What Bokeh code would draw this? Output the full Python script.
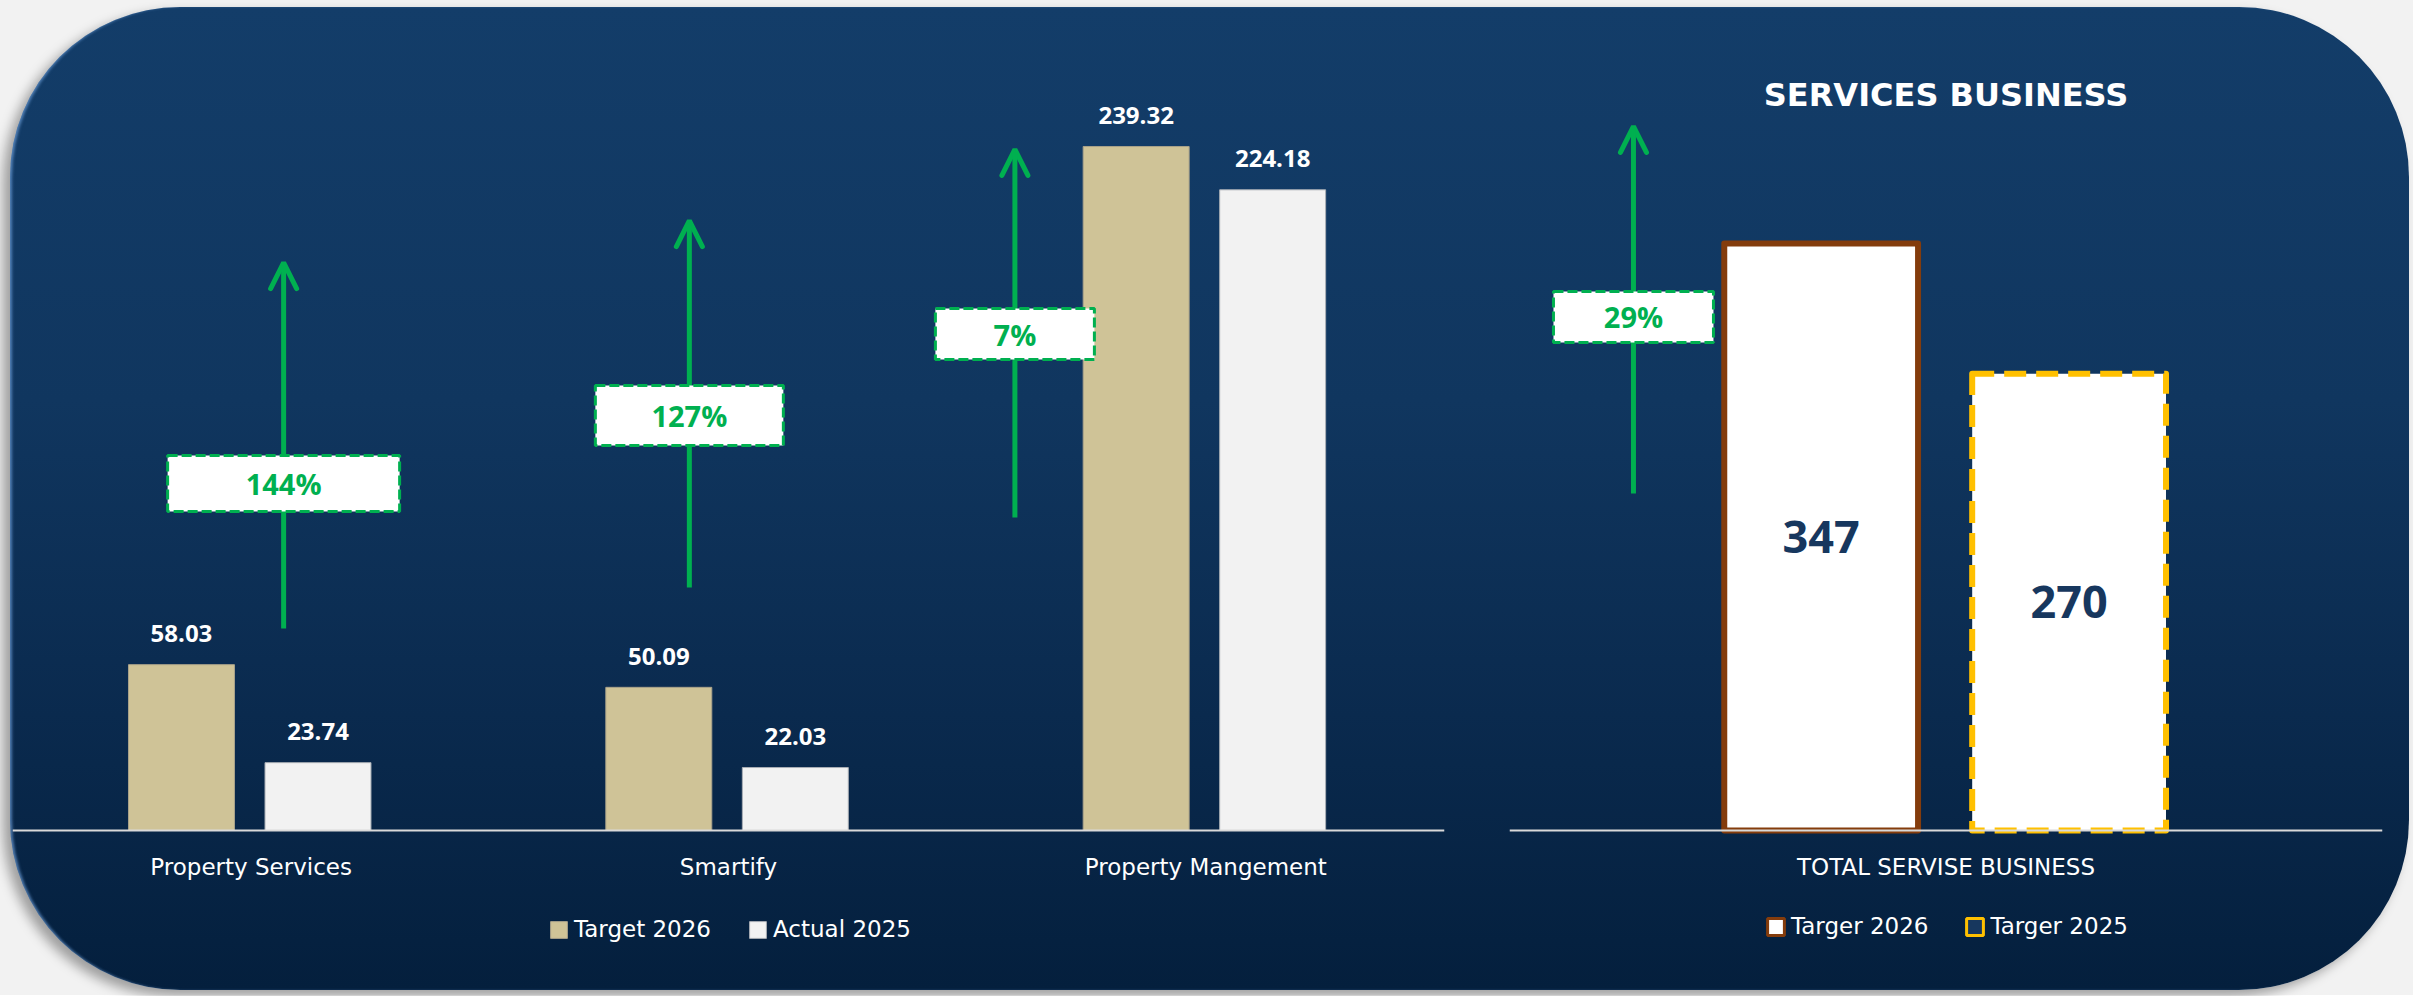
from bokeh.plotting import figure
from bokeh.models import (ColumnDataSource, FactorRange, Range1d, Arrow, OpenHead,
                          Legend, LegendItem, Label)
from bokeh.transform import dodge
from bokeh.layouts import row, column
from bokeh.core.properties import value
from bokeh.embed import file_html
from bokeh.resources import INLINE

# ---------------- data ----------------
categories = ["Property Services", "Smartify", "Property Mangement"]
target_2026 = [58.03, 50.09, 239.32]
actual_2025 = [23.74, 22.03, 224.18]
series_left = ["Target 2026", "Actual 2025"]

total_category = ["TOTAL SERVISE BUSINESS"]
total_target_2026 = [347]
total_target_2025 = [270]
series_right = ["Targer 2026", "Targer 2025"]

title_text = "SERVICES BUSINESS"

# ---------------- annotation layout (arrow / growth box placement) ----------------
arrow_dx_left = [0.068, -0.082, -0.400]      # offset from category centre (category units)
arrow_y0_left = [70.7, 85.0, 109.5]
arrow_y1_left = [198.7, 213.4, 238.3]
box_y_left = [121.4, 145.2, 173.7]
box_w_left = [232, 188, 159]
box_h_left = [56, 60, 51]

arrow_dx_right = [-0.358]
arrow_y0_right = [199.2]
arrow_y1_right = [416.1]
box_y_right = [303.5]
box_w_right = [160]
box_h_right = [51]

# ---------------- styles ----------------
TAN = "#CFC397"
LIGHT = "#F2F2F2"
GREEN = "#00B050"
BROWN = "#843C0C"
GOLD = "#FFC000"
NAVY = "#17375E"
LBL_FONT = "DejaVu Sans"
NUM_FONT = "Open Sans"

W_L, W_R, H = 1468, 931, 983
PX_L = 2.858   # pixels per unit, left chart
PX_R = 1.692   # pixels per unit, right chart
ABOVE, BELOW = 790, 160   # frame pixels above / below the baseline


def growth(t, a):
    return f"{round((t / a - 1) * 100):.0f}%"


def style_fig(p):
    p.background_fill_alpha = 0
    p.border_fill_alpha = 0
    p.outline_line_alpha = 0
    p.xgrid.visible = False
    p.ygrid.visible = False
    ax = p.xaxis[0]
    ax.fixed_location = 0
    ax.axis_line_color = "#D9D9D9"
    ax.axis_line_width = 2
    ax.major_tick_line_alpha = 0
    ax.minor_tick_line_alpha = 0
    ax.major_tick_out = 0
    ax.major_tick_in = 0
    ax.major_label_standoff = 23
    ax.major_label_text_color = "white"
    ax.major_label_text_font = LBL_FONT
    ax.major_label_text_font_size = "23px"


def style_legend(leg, loc):
    leg.orientation = "horizontal"
    leg.location = loc
    leg.background_fill_alpha = 0
    leg.border_line_alpha = 0
    leg.label_text_color = "white"
    leg.label_text_font = LBL_FONT
    leg.label_text_font_size = "23px"
    leg.glyph_width = 21
    leg.glyph_height = 21
    leg.label_height = 21
    leg.label_standoff = 5
    leg.spacing = 36
    leg.padding = 4
    leg.margin = 0


def percent_box(p, src):
    p.add_layout(Arrow(end=OpenHead(size=26, line_color=GREEN, line_width=5, line_cap="round"),
                       x_start="x", y_start="y0", x_end="x", y_end="y1", source=src,
                       line_color=GREEN, line_width=5, level="underlay"))
    p.rect(x="x", y="by", width="bw", height="bh", width_units="screen", height_units="screen",
           source=src, fill_color="white", line_color=GREEN, line_width=3, line_dash="10 4")
    p.text(x="x", y="by", text="lbl", source=src, text_align="center",
           text_baseline="middle", text_font=value(NUM_FONT), text_font_style="bold",
           text_font_size="29px", text_color=GREEN)


# ================= left chart =================
pL = figure(x_range=FactorRange(*categories),
            y_range=Range1d(-BELOW / PX_L, ABOVE / PX_L),
            width=W_L, height=H, output_backend="svg", toolbar_location=None,
            y_axis_location=None, min_border_left=2, min_border_right=34,
            min_border_top=33, min_border_bottom=0)
style_fig(pL)

src = ColumnDataSource(dict(
    cat=categories, target=target_2026, actual=actual_2025,
    t_lbl=[f"{v:.2f}" for v in target_2026],
    a_lbl=[f"{v:.2f}" for v in actual_2025],
))

x_t = dodge("cat", -0.146, range=pL.x_range)
x_a = dodge("cat", 0.140, range=pL.x_range)
r_t = pL.vbar(x=x_t, top="target", bottom=0, width=0.222, source=src,
              fill_color=TAN, line_color="#A9A28A", line_width=1)
r_a = pL.vbar(x=x_a, top="actual", bottom=0, width=0.222, source=src,
              fill_color=LIGHT, line_color="#A9AEB5", line_width=1)
pL.text(x=x_t, y="target", text="t_lbl", source=src, text_align="center",
        text_baseline="middle", y_offset=-31, text_font=value(NUM_FONT),
        text_font_style="bold", text_font_size="24px", text_color="white")
pL.text(x=x_a, y="actual", text="a_lbl", source=src, text_align="center",
        text_baseline="middle", y_offset=-31, text_font=value(NUM_FONT),
        text_font_style="bold", text_font_size="24px", text_color="white")

asrc_L = ColumnDataSource(dict(
    x=[i + 0.5 + d for i, d in enumerate(arrow_dx_left)],
    y0=arrow_y0_left, y1=arrow_y1_left, by=box_y_left,
    bw=box_w_left, bh=box_h_left,
    lbl=[growth(t, a) for t, a in zip(target_2026, actual_2025)],
))
percent_box(pL, asrc_L)

legL = Legend(items=[LegendItem(label=series_left[0], renderers=[r_t]),
                     LegendItem(label=series_left[1], renderers=[r_a])])
style_legend(legL, (532, 44))
pL.add_layout(legL)

# ================= right chart =================
pR = figure(x_range=FactorRange(*total_category),
            y_range=Range1d(-BELOW / PX_R, ABOVE / PX_R),
            width=W_R, height=H, output_backend="svg", toolbar_location=None,
            y_axis_location=None, min_border_left=31, min_border_right=27,
            min_border_top=33, min_border_bottom=0)
style_fig(pR)

rsrc = ColumnDataSource(dict(
    cat=total_category, t26=total_target_2026, t25=total_target_2025,
    m26=[v / 2 for v in total_target_2026], m25=[v / 2 for v in total_target_2025],
    l26=[str(v) for v in total_target_2026], l25=[str(v) for v in total_target_2025],
))
xr1 = dodge("cat", -0.143, range=pR.x_range)
xr2 = dodge("cat", 0.141, range=pR.x_range)
pR.vbar(x=xr1, top="t26", bottom=0, width=0.222, source=rsrc, fill_color="white",
        line_color=BROWN, line_width=6, line_join="round")
pR.vbar(x=xr2, top="t25", bottom=0, width=0.222, source=rsrc, fill_color="white",
        line_color=GOLD, line_width=6, line_dash="22 10", line_join="round")
pR.text(x=xr1, y="m26", text="l26", source=rsrc, text_align="center",
        text_baseline="middle", text_font=value(NUM_FONT), text_font_style="bold",
        text_font_size="45px", text_color=NAVY)
pR.text(x=xr2, y="m25", text="l25", source=rsrc, text_align="center",
        text_baseline="middle", text_font=value(NUM_FONT), text_font_style="bold",
        text_font_size="45px", text_color=NAVY)

asrc_R = ColumnDataSource(dict(
    x=[i + 0.5 + d for i, d in enumerate(arrow_dx_right)],
    y0=arrow_y0_right, y1=arrow_y1_right, by=box_y_right,
    bw=box_w_right, bh=box_h_right,
    lbl=[growth(t, a) for t, a in zip(total_target_2026, total_target_2025)],
))
percent_box(pR, asrc_R)

pR.add_layout(Label(x=0.5, y=434.4, text=title_text, text_align="center",
                    text_baseline="middle", text_font=LBL_FONT, text_font_style="bold",
                    text_font_size="32px", text_color="white"))

# legend proxies (not drawn in plot: NaN tops)
proxy = ColumnDataSource(dict(cat=total_category, top=[float("nan")]))
lp1 = pR.vbar(x="cat", top="top", width=0.1, source=proxy, fill_color="white",
              line_color=BROWN, line_width=3)
lp2 = pR.vbar(x="cat", top="top", width=0.1, source=proxy, fill_color=NAVY,
              line_color=GOLD, line_width=3)
legR = Legend(items=[LegendItem(label=series_right[0], renderers=[lp1]),
                     LegendItem(label=series_right[1], renderers=[lp2])])
style_legend(legR, (252, 47))
pR.add_layout(legR)

panel = row(pL, pR, margin=(7, 4, 5, 10), styles={
    "background": "linear-gradient(180deg, #133d69 0%, #10365f 40%, #0a2a4e 72%, #041f3d 100%)",
    "border-radius": "170px",
    "box-shadow": "-7px 6px 12px rgba(0,0,0,0.35), inset 3px 0 3px -1px rgba(110,160,220,0.7)",
})
page = column(panel, styles={"background": "#f2f2f2"})

open("out.html", "w").write(file_html(page, INLINE))
